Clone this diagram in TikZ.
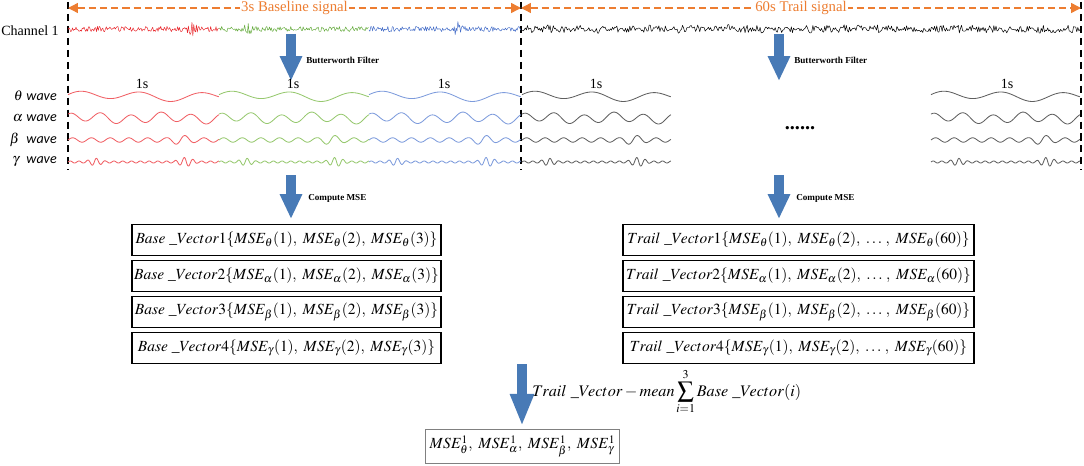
\documentclass[tikz,border=0pt]{standalone}
\usepackage{mathptmx}
\usepackage{fontspec}
\setmainfont{Liberation Serif}
\newfontfamily\wavefont{Carlito}
\usetikzlibrary{arrows.meta,positioning}
\definecolor{orng}{RGB}{237,125,49}
\definecolor{arrblue}{RGB}{72,122,182}
\definecolor{chred}{RGB}{232,40,45}
\definecolor{chgreen}{RGB}{100,170,60}
\definecolor{chblue}{RGB}{70,110,200}
\definecolor{wred}{RGB}{240,95,100}
\definecolor{wgreen}{RGB}{150,200,110}
\definecolor{wblue}{RGB}{125,155,220}
\definecolor{wgray}{RGB}{95,95,95}
\newcommand{\msev}[2]{MSE_{#1}(#2)}

\begin{document}
\begin{tikzpicture}[x=0.025cm, y=-0.025cm,
	sigline/.style={line width=0.35pt, line join=round},
	waveline/.style={line width=0.6pt, line join=round},
	bound/.style={line width=1.3pt, dash pattern=on 5pt off 3.5pt},
	spanarr/.style={orng, line width=1pt, dash pattern=on 5pt off 3pt, {Triangle[length=7pt,width=7pt]}-{Triangle[length=7pt,width=7pt]}},
	spanlbl/.style={fill=white, text=orng, inner sep=1pt, font=\fontsize{10.5}{12}\selectfont},
	bigarr/.style={arrblue, line width=0.24cm, -{Triangle[length=0.62cm,width=0.52cm]}},
	note/.style={font=\fontsize{6.5}{8}\selectfont\bfseries, anchor=west, inner sep=0pt},
	seclbl/.style={font=\fontsize{10}{12}\selectfont, inner sep=0pt},
	wavelbl/.style={font=\fontsize{10}{12}\selectfont, anchor=east, inner sep=0pt},
	vecbox/.style={draw, line width=1.1pt, minimum width=#1, minimum height=0.78cm, inner sep=1pt, font=\fontsize{11}{13}\selectfont},
	resbox/.style={draw=gray, line width=0.6pt, minimum width=4.85cm, minimum height=0.85cm, inner sep=1pt, font=\fontsize{11}{13}\selectfont}]
	\useasboundingbox (0,0) rectangle (1084,466);

	% time boundaries
	\coordinate (B0t) at (68,2);   \coordinate (B0b) at (68,170);
	\coordinate (B1t) at (521,2);  \coordinate (B1b) at (521,170);
	\coordinate (B2t) at (1081,2); \coordinate (B2b) at (1081,170);
	\draw[bound] (B0t) -- (B0b);
	\draw[bound] (B1t) -- (B1b);
	\draw[bound] (B2t) -- (B2b);
	\coordinate (S0) at (68,8);
	\coordinate (S1) at (521,8);
	\coordinate (S2) at (1081,8);
	\draw[spanarr] (S0) -- node[spanlbl] (base) {3s Baseline signal} (S1);
	\draw[spanarr] (S1) -- node[spanlbl] (trail) {60s Trail signal} (S2);

	% raw channel
	\node[seclbl, anchor=east] (ch1) at (59,31) {Channel 1};
	\pgfmathsetseed{7}
	\foreach \xa/\xb/\col/\bp in {68/219/chred/0.82, 219/369/chgreen/0.2, 369/521/chblue/0.58}
		\draw[\col, sigline] plot[domain=0:1, samples=170] ({\xa+(\xb-\xa)*\x}, {29+(2.6+6*max(0,1-abs((\x-\bp)/0.04)))*rand});
	\draw[black, sigline] plot[domain=521:1080, samples=520] (\x, {29+(2+2.4*abs(sin(\x*11)))*rand});

	% filter step
	\coordinate (F1s) at (291,34); \coordinate (F1e) at (291,81);
	\coordinate (F2s) at (779,34); \coordinate (F2e) at (779,81);
	\draw[bigarr] (F1s) -- (F1e);
	\draw[bigarr] (F2s) -- (F2e);
	\node[note] (bw1) at (306,60) {Butterworth Filter};
	\node[note] (bw2) at (794,60) {Butterworth Filter};

	\foreach \xs/\nm in {142/s1, 293/s2, 444/s3, 596/s4, 1007/s5}
		\node[seclbl] (\nm) at (\xs,84) {1s};

	\node[wavelbl] (th) at (57,96) {$\theta$ {\wavefont\itshape wave}};
	\node[wavelbl] (al) at (57,118) {$\alpha$ {\wavefont\itshape wave}};
	\node[wavelbl] (be) at (57,140) {$\beta$ \ {\wavefont\itshape wave}};
	\node[wavelbl] (ga) at (57,162) {$\gamma$ \ {\wavefont\itshape wave}};

	\foreach \xa/\xb/\col in {68/219/wred, 219/369/wgreen, 369/521/wblue, 522/671/wgray, 931/1080/wgray} {
		\draw[\col, waveline] plot[domain=0:1, samples=120] ({\xa+(\xb-\xa)*\x}, {96-4*sin(900*\x+20)-1.5*sin(380*\x)});
		\draw[\col, waveline] plot[domain=0:1, samples=140] ({\xa+(\xb-\xa)*\x}, {118-4.5*sin(1800*\x+60)-1.5*sin(700*\x)});
		\draw[\col, waveline] plot[domain=0:1, samples=200] ({\xa+(\xb-\xa)*\x}, {140-(2.2+3*max(0,1-abs((\x-0.75)/0.1)))*sin(2900*\x)});
		\draw[\col, waveline] plot[domain=0:1, samples=300] ({\xa+(\xb-\xa)*\x}, {162-(1+4*max(0,1-abs((\x-0.78)/0.08))+3*max(0,1-abs((\x-0.18)/0.07)))*sin(6200*\x)});
	}
	\node[font=\Large\bfseries, inner sep=0pt] (dots) at (800,128) {......};

	% MSE step
	\coordinate (M1s) at (291,175); \coordinate (M1e) at (291,219);
	\coordinate (M2s) at (779,175); \coordinate (M2e) at (779,219);
	\draw[bigarr] (M1s) -- (M1e);
	\draw[bigarr] (M2s) -- (M2e);
	\node[note] (cm1) at (308,198) {Compute MSE};
	\node[note] (cm2) at (796,198) {Compute MSE};

	\node[vecbox=7.72cm] (BV1) at (286.5,240) {$Base\ \_Vector1\{\msev{\theta}{1},\ \msev{\theta}{2},\ \msev{\theta}{3}\}$};
	\node[vecbox=7.72cm] (BV2) at (286.5,276) {$Base\ \_Vector2\{\msev{\alpha}{1},\ \msev{\alpha}{2},\ \msev{\alpha}{3}\}$};
	\node[vecbox=7.72cm] (BV3) at (286.5,312) {$Base\ \_Vector3\{\msev{\beta}{1},\ \msev{\beta}{2},\ \msev{\beta}{3}\}$};
	\node[vecbox=7.72cm] (BV4) at (286.5,348) {$Base\ \_Vector4\{\msev{\gamma}{1},\ \msev{\gamma}{2},\ \msev{\gamma}{3}\}$};

	\node[vecbox=8.78cm] (TV1) at (798.5,240) {$Trail\ \_Vector1\{\msev{\theta}{1},\ \msev{\theta}{2},\ \dots\,,\ \msev{\theta}{60}\}$};
	\node[vecbox=8.78cm] (TV2) at (798.5,276) {$Trail\ \_Vector2\{\msev{\alpha}{1},\ \msev{\alpha}{2},\ \dots\,,\ \msev{\alpha}{60}\}$};
	\node[vecbox=8.78cm] (TV3) at (798.5,312) {$Trail\ \_Vector3\{\msev{\beta}{1},\ \msev{\beta}{2},\ \dots\,,\ \msev{\beta}{60}\}$};
	\node[vecbox=8.78cm] (TV4) at (798.5,348) {$Trail\ \_Vector4\{\msev{\gamma}{1},\ \msev{\gamma}{2},\ \dots\,,\ \msev{\gamma}{60}\}$};

	% final step
	\coordinate (Rs) at (522,364); \coordinate (Re) at (522,426);
	\draw[bigarr, -{Triangle[length=0.8cm,width=0.55cm]}] (Rs) -- (Re);
	\node[anchor=west, inner sep=0pt, font=\fontsize{11.5}{13}\selectfont] (diff) at (532,392) {$\displaystyle Trail\ \_Vector - mean\sum_{i=1}^{3} Base\ \_Vector(i)$};
	\node[resbox] (res) at (522.5,446) {$MSE_{\theta}^{1},\ MSE_{\alpha}^{1},\ MSE_{\beta}^{1},\ MSE_{\gamma}^{1}$};
\end{tikzpicture}
\end{document}
